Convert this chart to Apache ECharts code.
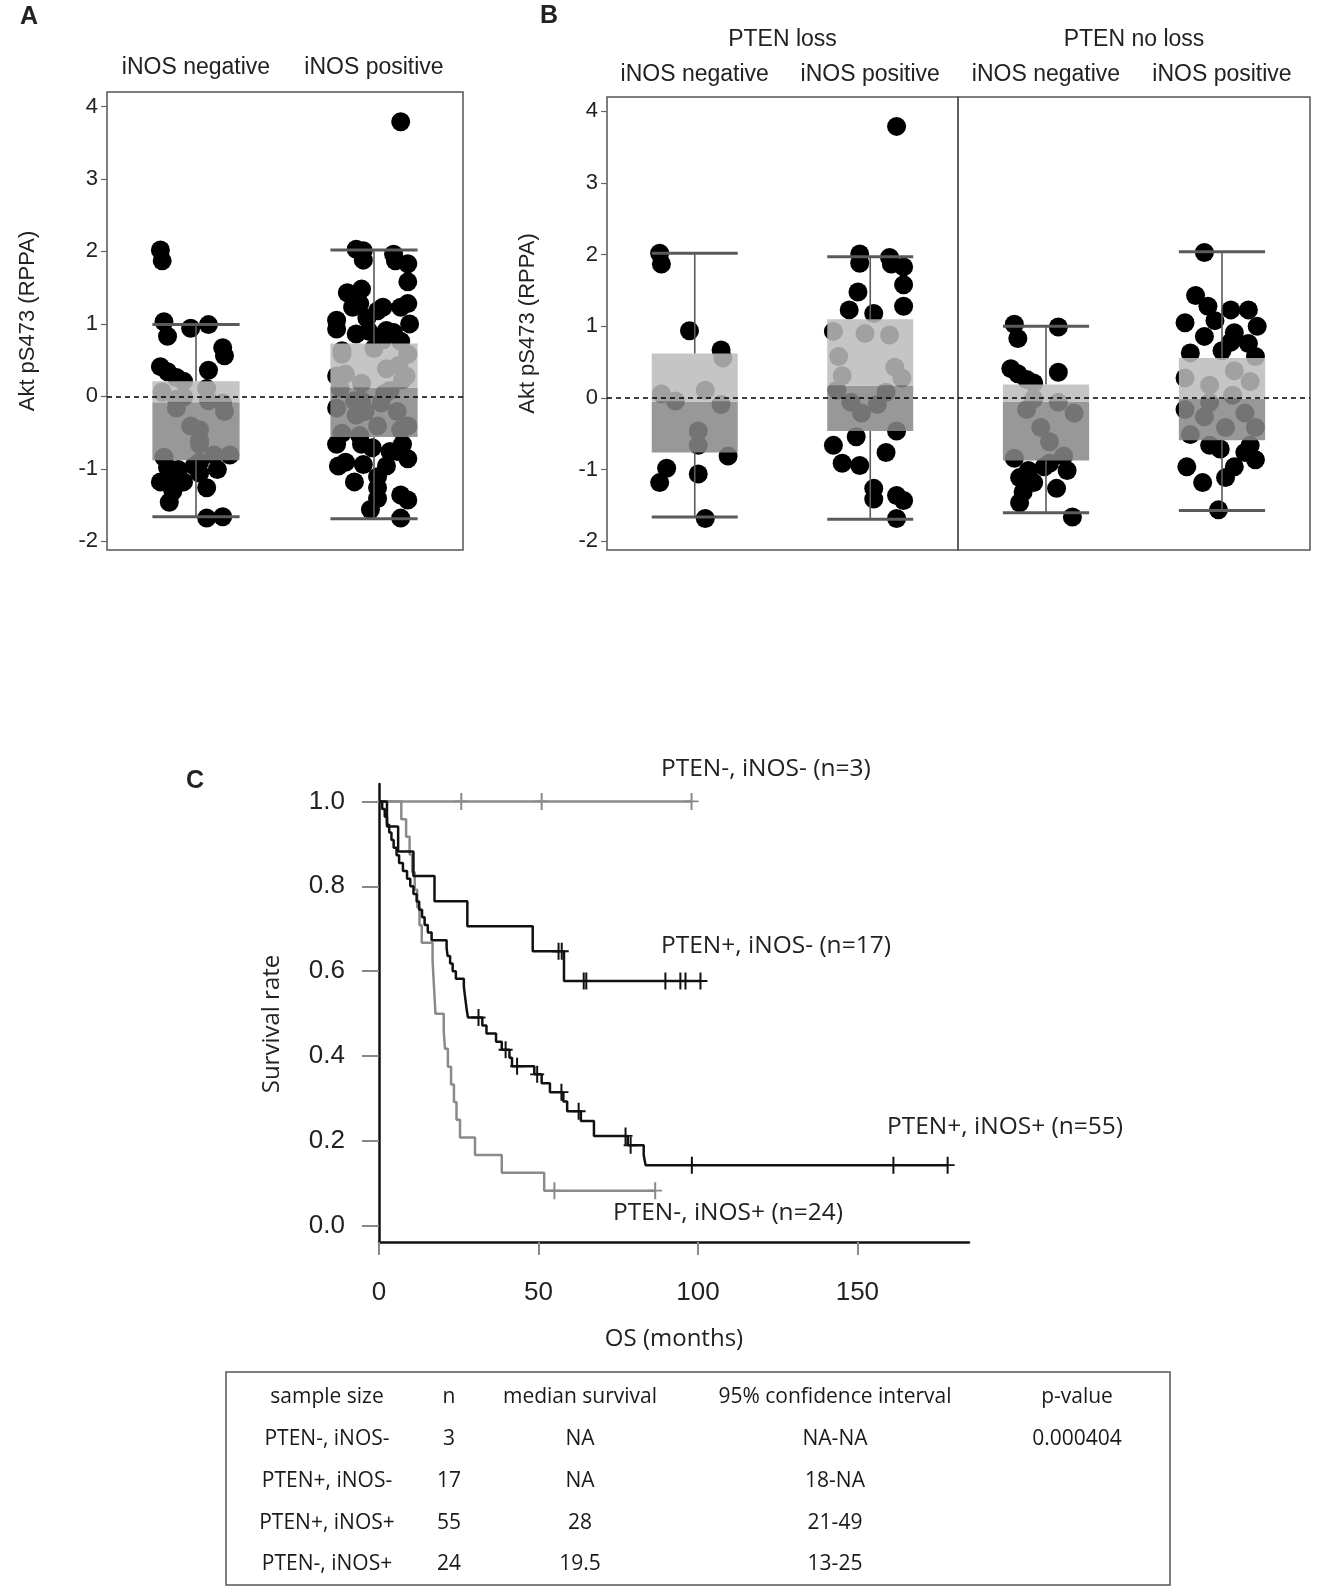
<!DOCTYPE html>
<html>
<head>
<meta charset="utf-8">
<script src="https://cdn.jsdelivr.net/npm/echarts@6/dist/echarts.min.js"></script>
<style>
  html, body { margin: 0; padding: 0; background: #fff; }
  #main { width: 1321px; height: 1592px; }
</style>
</head>
<body>
<div id="main"></div>
<script>
// ---- data ----
var catLabels = ['iNOS negative', 'iNOS positive'];
var yTicksAB = [-2, -1, 0, 1, 2, 3, 4];

// [jitter offset within category, Akt pS473]
var lossNeg = [[-0.20,2.02],[-0.19,1.87],[-0.03,0.94],[0.15,0.67],[0.16,0.56],[0.06,0.11],[-0.19,0.06],[-0.11,-0.04],
  [0.15,-0.09],[0.02,-0.46],[0.02,-0.66],[0.19,-0.81],[-0.16,-0.98],[-0.20,-1.18],[0.02,-1.06],[0.06,-1.68]];
var lossPos = [[0.15,3.79],[-0.06,2.01],[-0.06,1.88],[0.11,1.96],[0.12,1.87],[0.19,1.83],[0.19,1.58],[0.19,1.28],
  [-0.07,1.48],[-0.12,1.23],[0.02,1.18],[-0.21,0.93],[-0.03,0.90],[0.11,0.88],[-0.18,0.58],[-0.16,0.31],[0.14,0.43],
  [0.18,0.28],[-0.19,0.11],[0.09,0.08],[-0.11,-0.06],[0.04,-0.09],[-0.05,-0.21],[0.15,-0.46],[-0.21,-0.66],
  [-0.08,-0.54],[0.09,-0.76],[-0.16,-0.91],[-0.06,-0.94],[0.02,-1.26],[0.02,-1.41],[0.15,-1.36],[0.19,-1.43],[0.15,-1.68]];
var noLossNeg = [[-0.18,1.03],[-0.16,0.83],[0.07,0.99],[0.07,0.36],[-0.16,0.34],[-0.11,0.26],[-0.07,0.21],[-0.20,0.41],
  [-0.11,-0.16],[-0.03,-0.41],[0.02,-0.61],[0.16,-0.21],[-0.18,-0.84],[0.10,-0.81],[-0.07,-0.01],[0.07,-0.06],
  [-0.15,-1.11],[-0.10,-1.01],[-0.01,-0.96],[0.12,-1.01],[0.06,-1.26],[-0.07,-1.18],[-0.15,-1.46],[-0.13,-1.31],
  [0.15,-1.66],[0.02,-0.91]];
var noLossPos = [[-0.10,2.03],[-0.21,1.05],[-0.15,1.43],[-0.08,1.28],[0.05,1.23],[0.15,1.23],[0.20,1.00],[0.07,0.91],
  [-0.10,0.86],[0.15,0.76],[0.00,0.66],[-0.18,0.63],[0.19,0.58],[-0.04,1.08],[0.05,0.78],[-0.21,0.28],[0.07,0.38],
  [-0.07,0.18],[0.16,0.23],[0.06,0.04],[-0.21,-0.16],[-0.10,-0.26],[0.02,-0.41],[0.19,-0.41],[-0.18,-0.51],
  [-0.07,-0.06],[0.13,-0.21],[-0.01,-0.71],[0.13,-0.76],[0.19,-0.86],[0.07,-0.96],[-0.20,-0.96],[-0.11,-1.18],
  [0.02,-1.11],[-0.02,-1.56],[-0.07,-0.66],[0.16,-0.66]];

// box stats: [whisker low, Q1, median, Q3, whisker high]
var boxA = [[-1.66,-0.88,-0.08,0.21,0.99], [-1.69,-0.56,0.12,0.73,2.02]];
var boxLoss = [[-1.66,-0.76,-0.05,0.62,2.02], [-1.69,-0.46,0.17,1.10,1.97]];
var boxNoLoss = [[-1.60,-0.87,-0.05,0.19,1.00], [-1.57,-0.59,-0.01,0.56,2.04]];

// Kaplan-Meier steps [months, survival] and censor marks
var km3 = [[0,1],[98,1]];
var cens3 = [[25.8,1],[51,1],[98,1]];
var km17 = [[0,1],[2.5,0.941],[6,0.882],[10.8,0.824],[17.4,0.765],[27.7,0.706],[48.2,0.647],[58,0.577],[100.8,0.577]];
var cens17 = [[56.3,0.647],[57.3,0.647],[64.2,0.577],[65,0.577],[89.8,0.577],[94.5,0.577],[96.1,0.577],[100.8,0.577]];
var km55 = [[0,1],[1,0.982],[1.8,0.964],[2.5,0.945],[3.2,0.927],[3.9,0.909],[4.6,0.891],[5.5,0.873],[6.3,0.855],
  [7.5,0.836],[8.8,0.818],[9.8,0.8],[10.8,0.782],[11.8,0.764],[12.6,0.745],[13.5,0.727],[14.3,0.709],[15.3,0.691],
  [16.5,0.673],[21.2,0.655],[21.5,0.636],[22.3,0.618],[23.1,0.6],[24.1,0.582],[26.6,0.564],[26.9,0.545],[27.2,0.527],
  [27.5,0.509],[27.9,0.491],[32.4,0.472],[33.7,0.453],[36.7,0.434],[38.5,0.415],[40.9,0.396],[41.7,0.376],[48.7,0.357],
  [51,0.336],[53.6,0.315],[57.8,0.293],[59,0.27],[63.3,0.247],[67.4,0.212],[78,0.19],[83,0.167],[83.6,0.143],[178.3,0.143]];
var cens55 = [[31.2,0.491],[39.7,0.415],[43.3,0.376],[49.6,0.357],[57.2,0.315],[62.6,0.27],[77.3,0.212],[78.9,0.19],
  [98.1,0.143],[161.3,0.143],[178.3,0.143]];
var km24 = [[0,1],[7,0.958],[8.5,0.917],[9.6,0.875],[10.4,0.833],[11.2,0.792],[12,0.75],[12.7,0.708],[13.4,0.667],
  [16.8,0.625],[17.1,0.583],[17.4,0.542],[17.7,0.5],[20.3,0.458],[20.7,0.417],[21.6,0.375],[22.6,0.333],[23.5,0.292],
  [24.3,0.25],[25.4,0.208],[30.1,0.167],[38.5,0.125],[51.8,0.083],[86.6,0.083]];
var cens24 = [[55,0.083],[86.6,0.083]];
var kmXTicks = [0, 50, 100, 150];
var kmYTicks = [0, 0.2, 0.4, 0.6, 0.8, 1.0];

var tableHeader = ['sample size', 'n', 'median survival', '95% confidence interval', 'p-value'];
var tableRows = [
  ['PTEN-, iNOS-', '3', 'NA', 'NA-NA', '0.000404'],
  ['PTEN+, iNOS-', '17', 'NA', '18-NA', ''],
  ['PTEN+, iNOS+', '55', '28', '21-49', ''],
  ['PTEN-, iNOS+', '24', '19.5', '13-25', '']
];

// ---- styling helpers ----
var sansAB = "'Liberation Sans', Arial, sans-serif";
var sansC = "'Open Sans', sans-serif";
var grey = '#8a8a8a';
var plusSymbol = 'path://M6,0h2v8h6v2h-6v8h-2v-8h-6v-2h6z';

function place(points, idx) {
  return points.map(function (p) { return [idx + p[0], p[1]]; });
}

function renderBox(params, api) {
  var x = api.value(0);
  var lo = api.coord([x, api.value(1)]);
  var q1 = api.coord([x, api.value(2)]);
  var md = api.coord([x, api.value(3)]);
  var q3 = api.coord([x, api.value(4)]);
  var hi = api.coord([x, api.value(5)]);
  var w = api.size([0.49, 0])[0];
  var cx = lo[0];
  var line = { stroke: '#5a5a5a', lineWidth: 1.6 };
  var cap = { stroke: '#5a5a5a', lineWidth: 3 };
  return {
    type: 'group',
    children: [
      { type: 'line', shape: { x1: cx, y1: lo[1], x2: cx, y2: q1[1] }, style: line },
      { type: 'line', shape: { x1: cx, y1: q3[1], x2: cx, y2: hi[1] }, style: line },
      { type: 'line', shape: { x1: cx - w / 2, y1: lo[1], x2: cx + w / 2, y2: lo[1] }, style: cap },
      { type: 'line', shape: { x1: cx - w / 2, y1: hi[1], x2: cx + w / 2, y2: hi[1] }, style: cap },
      { type: 'rect', shape: { x: cx - w / 2, y: md[1], width: w, height: q1[1] - md[1] },
        style: { fill: 'rgba(135,135,135,0.86)' } },
      { type: 'rect', shape: { x: cx - w / 2, y: q3[1], width: w, height: md[1] - q3[1] },
        style: { fill: 'rgba(188,188,188,0.86)' } }
    ]
  };
}

function boxData(stats) {
  return stats.map(function (s, i) { return [i].concat(s); });
}

function catAxis(grid, name) {
  return {
    type: 'category', gridIndex: grid, position: 'top', data: catLabels,
    axisLine: { show: false }, axisTick: { show: false },
    axisLabel: { interval: 0, margin: grid === 0 ? 13 : 11, fontSize: 23, color: '#222', fontFamily: sansAB },
    name: name || '', nameLocation: 'middle', nameGap: 46,
    nameTextStyle: { fontSize: 23, color: '#222', fontFamily: sansAB }
  };
}
function hiddenX(grid) {
  return { type: 'value', gridIndex: grid, min: -0.5, max: 1.5, show: false };
}
function abY(grid, visible) {
  return {
    type: 'value', gridIndex: grid, min: -2.12, max: 4.2, show: visible,
    splitLine: { show: false },
    axisLine: { show: false, onZero: false },
    axisTick: { show: true, length: 6, customValues: yTicksAB, lineStyle: { color: '#666', width: 1.2 } },
    axisLabel: { margin: 9, customValues: yTicksAB, fontSize: 22, color: '#222', fontFamily: sansAB },
    name: 'Akt pS473 (RPPA)', nameLocation: 'middle', nameGap: 68,
    nameTextStyle: { fontSize: 22, color: '#222', fontFamily: sansAB }
  };
}
function dots(xi, yi, data) {
  return {
    type: 'scatter', xAxisIndex: xi, yAxisIndex: yi, data: data, symbolSize: 19, z: 2,
    itemStyle: { color: '#000', opacity: 1 }, silent: true,
    markLine: {
      silent: true, symbol: ['none', 'none'], label: { show: false },
      lineStyle: { color: '#000', type: [5, 4], width: 1.5 },
      data: [{ yAxis: 0 }]
    }
  };
}
function boxes(xi, yi, stats) {
  return { type: 'custom', xAxisIndex: xi, yAxisIndex: yi, renderItem: renderBox, data: boxData(stats), z: 3, silent: true };
}
function kmLine(data, color) {
  return {
    type: 'line', xAxisIndex: 6, yAxisIndex: 3, data: data, step: 'end', showSymbol: false, symbol: 'none',
    lineStyle: { color: color, width: 2.5 }, z: 3, silent: true
  };
}
function kmCens(data, color) {
  return {
    type: 'scatter', xAxisIndex: 6, yAxisIndex: 3, data: data, symbol: plusSymbol, symbolSize: [14, 17],
    itemStyle: { color: color, opacity: 1 }, z: 4, silent: true
  };
}

var tableCols = [327, 449, 580, 835, 1077];
var tableRowY = [1397, 1439, 1481, 1523, 1564];
var tableText = [];
[tableHeader].concat(tableRows).forEach(function (row, r) {
  row.forEach(function (cell, c) {
    if (!cell) return;
    tableText.push({
      type: 'text', x: tableCols[c], y: tableRowY[r],
      style: { text: cell, font: '21px ' + sansC, fill: '#1a1a1a', textAlign: 'center', textVerticalAlign: 'middle' }
    });
  });
});

function label(text, x, y, font, align) {
  return { type: 'text', x: x, y: y,
    style: { text: text, font: font, fill: '#222', textAlign: align || 'left', textVerticalAlign: 'middle' } };
}

var chart = echarts.init(document.getElementById('main'));
var frame = { show: true, borderColor: '#555', borderWidth: 1.5, backgroundColor: 'transparent' };

chart.setOption({
  animation: false,
  backgroundColor: '#fff',
  grid: [
    Object.assign({ left: 107, top: 92, width: 356, height: 458 }, frame),
    Object.assign({ left: 607, top: 97, width: 351, height: 453 }, frame),
    Object.assign({ left: 958, top: 97, width: 352, height: 453 }, frame),
    { left: 379, top: 784, width: 590, height: 458, show: false }
  ],
  xAxis: [
    catAxis(0), hiddenX(0),
    catAxis(1, 'PTEN loss'), hiddenX(1),
    catAxis(2, 'PTEN no loss'), hiddenX(2),
    {
      type: 'value', gridIndex: 3, min: 0, max: 185,
      splitLine: { show: false },
      axisLine: { onZero: false, lineStyle: { color: '#111', width: 2.5 } },
      axisTick: { length: 13, customValues: kmXTicks, lineStyle: { color: '#888', width: 2 } },
      axisLabel: { margin: 38, customValues: kmXTicks, fontSize: 26, color: '#222', fontFamily: sansAB },
      name: 'OS (months)', nameLocation: 'middle', nameGap: 85,
      nameTextStyle: { fontSize: 24, color: '#222', fontFamily: sansC }
    }
  ],
  yAxis: [
    abY(0, true), abY(1, true), abY(2, false),
    {
      type: 'value', gridIndex: 3, min: -0.038, max: 1.041,
      splitLine: { show: false },
      axisLine: { onZero: false, lineStyle: { color: '#111', width: 2.5 } },
      axisTick: { length: 17, customValues: kmYTicks, lineStyle: { color: '#888', width: 2 } },
      axisLabel: { margin: 34, customValues: kmYTicks, fontSize: 26, color: '#222', fontFamily: sansAB,
        formatter: function (v) { return v.toFixed(1); } }
    }
  ],
  series: [
    dots(1, 0, place(lossNeg, 0).concat(place(noLossNeg, 0), place(lossPos, 1), place(noLossPos, 1))),
    boxes(1, 0, boxA),
    dots(3, 1, place(lossNeg, 0).concat(place(lossPos, 1))),
    boxes(3, 1, boxLoss),
    dots(5, 2, place(noLossNeg, 0).concat(place(noLossPos, 1))),
    boxes(5, 2, boxNoLoss),
    kmLine(km3, grey), kmCens(cens3, grey),
    kmLine(km24, grey), kmCens(cens24, grey),
    kmLine(km17, '#111'), kmCens(cens17, '#111'),
    kmLine(km55, '#111'), kmCens(cens55, '#111')
  ],
  graphic: [
    label('A', 29, 17, 'bold 25px ' + sansAB, 'center'),
    label('B', 549, 16, 'bold 25px ' + sansAB, 'center'),
    label('C', 195, 781, 'bold 25px ' + sansAB, 'center'),
    label('PTEN-, iNOS- (n=3)', 661, 769, '24.5px ' + sansC),
    label('PTEN+, iNOS- (n=17)', 661, 946, '24.5px ' + sansC),
    label('PTEN+, iNOS+ (n=55)', 887, 1127, '24.5px ' + sansC),
    label('PTEN-, iNOS+ (n=24)', 613, 1213, '24.5px ' + sansC),
    { type: 'text', x: 272, y: 1024, rotation: Math.PI / 2,
      style: { text: 'Survival rate', font: '24px ' + sansC, fill: '#222', textAlign: 'center', textVerticalAlign: 'middle' } },
    { type: 'rect', shape: { x: 226, y: 1372, width: 944, height: 213 },
      style: { fill: 'none', stroke: '#555', lineWidth: 1.5 } }
  ].concat(tableText)
});
</script>
</body>
</html>
